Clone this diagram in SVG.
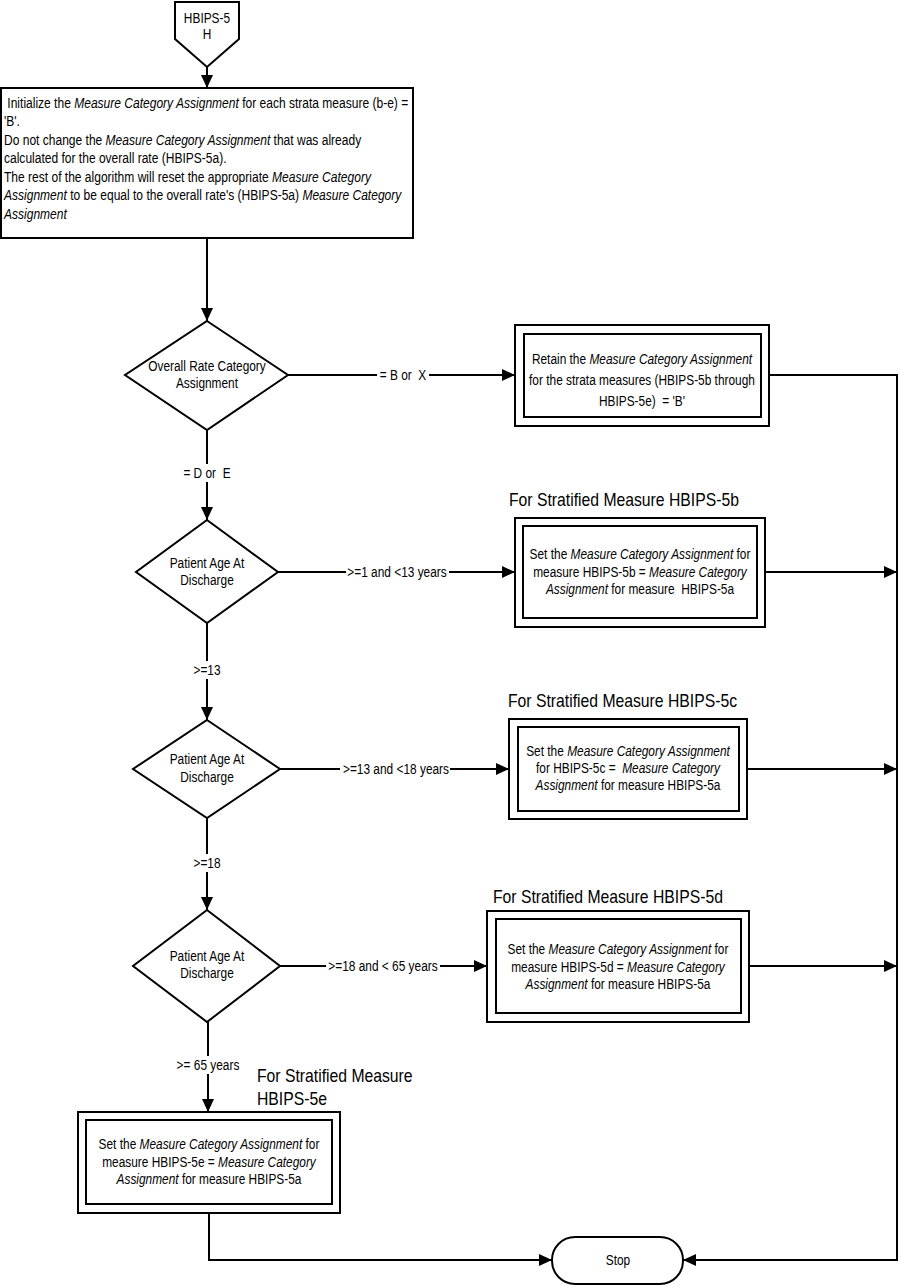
<svg xmlns="http://www.w3.org/2000/svg" width="901" height="1287" viewBox="0 0 901 1287">
<style>
text{font-family:"Liberation Sans",Arial,sans-serif;font-size:14.5px;fill:#000}
.c{text-anchor:middle}
.i{font-style:italic}
.hdr{font-size:17.5px}
.shape{fill:#fff;stroke:#000;stroke-width:2}
.arr{fill:none;stroke:#000;stroke-width:2;marker-end:url(#ah)}
.bg{fill:#fff;stroke:none}
</style>
<defs>
<marker id="ah" markerUnits="userSpaceOnUse" markerWidth="13" markerHeight="12" refX="13" refY="6" orient="auto">
<path d="M0,0 L13,6 L0,12 z" fill="#000"/>
</marker>
</defs>
<rect width="901" height="1287" fill="#fff"/>

<g id="connectors">
<path class="arr" d="M207,67 V88"/>
<path class="arr" d="M207,238 V321"/>
<path class="arr" d="M288,375 H515"/>
<path class="arr" d="M769,375 H897 V1260 H683"/>
<path class="arr" d="M207,430 V520"/>
<path class="arr" d="M278,572 H515"/>
<path class="arr" d="M765,572 H897"/>
<path class="arr" d="M207,623 V720"/>
<path class="arr" d="M280,769 H509"/>
<path class="arr" d="M747,769 H897"/>
<path class="arr" d="M207,818 V910"/>
<path class="arr" d="M280,966 H487"/>
<path class="arr" d="M749,966 H897"/>
<path class="arr" d="M208,1022 V1112"/>
<path class="arr" d="M209,1213 V1260 H552"/>
<g id="connector-labels">
<rect class="bg" x="377" y="366" width="52" height="18"/>
<text class="c" x="403" y="380" transform="matrix(0.82 0 0 1 72.54 0)" xml:space="preserve">= B or  X</text>
<rect class="bg" x="182" y="464" width="50" height="18"/>
<text class="c" x="207" y="478" transform="matrix(0.82 0 0 1 37.26 0)" xml:space="preserve">= D or  E</text>
<rect class="bg" x="346" y="563" width="103" height="18"/>
<text class="c" x="397" y="577" transform="matrix(0.82 0 0 1 71.46 0)">&gt;=1 and &lt;13 years</text>
<rect class="bg" x="190" y="661" width="34" height="18"/>
<text class="c" x="207" y="675" transform="matrix(0.82 0 0 1 37.26 0)">&gt;=13</text>
<rect class="bg" x="340" y="760" width="110" height="18"/>
<text class="c" x="396" y="774" transform="matrix(0.82 0 0 1 71.28 0)">&gt;=13 and &lt;18 years</text>
<rect class="bg" x="190" y="854" width="34" height="18"/>
<text class="c" x="207" y="868" transform="matrix(0.82 0 0 1 37.26 0)">&gt;=18</text>
<rect class="bg" x="326" y="957" width="114" height="18"/>
<text class="c" x="383" y="971" transform="matrix(0.82 0 0 1 68.94 0)">&gt;=18 and &lt; 65 years</text>
<rect class="bg" x="175" y="1056" width="65" height="18"/>
<text class="c" x="208" y="1070" transform="matrix(0.82 0 0 1 37.44 0)">&gt;= 65 years</text>
</g>
</g>

<g id="start">
<path class="shape" d="M175,2 H239 V39 L207,67 L175,39 Z"/>
<g transform="matrix(0.82 0 0 1 37.26 0)">
<text class="c" x="207" y="23">HBIPS-5</text>
<text class="c" x="207" y="39">H</text>
</g>
</g>

<g id="init">
<rect class="shape" x="1" y="88" width="412" height="150"/>
<g transform="matrix(0.83 0 0 1 0.68 0)">
<text x="4" y="108" xml:space="preserve"> Initialize the <tspan class="i">Measure Category Assignment</tspan> for each strata measure (b-e) =</text>
<text x="4" y="126">'B'.</text>
<text x="4" y="145">Do not change the <tspan class="i">Measure Category Assignment</tspan> that was already</text>
<text x="4" y="163">calculated for the overall rate (HBIPS-5a).</text>
<text x="4" y="182">The rest of the algorithm will reset the appropriate <tspan class="i">Measure Category</tspan></text>
<text x="4" y="200"><tspan class="i">Assignment</tspan> to be equal to the overall rate's (HBIPS-5a) <tspan class="i">Measure Category</tspan></text>
<text x="4" y="219"><tspan class="i">Assignment</tspan></text>
</g>
</g>

<g id="d-overall">
<path class="shape" d="M207,321 L288,375 L207,430 L125,375 Z"/>
<g transform="matrix(0.82 0 0 1 37.26 0)">
<text class="c" x="207" y="371">Overall Rate Category</text>
<text class="c" x="207" y="388">Assignment</text>
</g>
</g>

<g id="retain">
<rect class="shape" x="515" y="325" width="254" height="101"/>
<rect class="shape" x="524" y="334" width="237" height="83"/>
<g transform="matrix(0.82 0 0 1 115.56 0)">
<text class="c" x="642" y="364">Retain the <tspan class="i">Measure Category Assignment</tspan></text>
<text class="c" x="642" y="385">for the strata measures (HBIPS-5b through</text>
<text class="c" x="642" y="406" xml:space="preserve">HBIPS-5e)  = 'B'</text>
</g>
</g>

<g id="d-age1">
<path class="shape" d="M207,520 L278,572 L207,623 L136,572 Z"/>
<g transform="matrix(0.82 0 0 1 37.26 0)">
<text class="c" x="207" y="568">Patient Age At</text>
<text class="c" x="207" y="585">Discharge</text>
</g>
</g>

<g id="box-5b">
<text class="hdr" x="509" y="506" transform="matrix(0.9 0 0 1 50.9 0)">For Stratified Measure HBIPS-5b</text>
<rect class="shape" x="515" y="518" width="250" height="109"/>
<rect class="shape" x="523" y="526" width="234" height="92"/>
<g transform="matrix(0.82 0 0 1 115.2 0)">
<text class="c" x="640" y="559">Set the <tspan class="i">Measure Category Assignment</tspan> for</text>
<text class="c" x="640" y="577">measure HBIPS-5b = <tspan class="i">Measure Category</tspan></text>
<text class="c" x="640" y="594" xml:space="preserve"><tspan class="i">Assignment</tspan> for measure  HBIPS-5a</text>
</g>
</g>

<g id="d-age2">
<path class="shape" d="M207,720 L280,769 L207,818 L133,769 Z"/>
<g transform="matrix(0.82 0 0 1 37.26 0)">
<text class="c" x="207" y="764">Patient Age At</text>
<text class="c" x="207" y="782">Discharge</text>
</g>
</g>

<g id="box-5c">
<text class="hdr" x="508" y="707" transform="matrix(0.9 0 0 1 50.8 0)">For Stratified Measure HBIPS-5c</text>
<rect class="shape" x="509" y="719" width="238" height="100"/>
<rect class="shape" x="518" y="727" width="221" height="84"/>
<g transform="matrix(0.82 0 0 1 113.04 0)">
<text class="c" x="628" y="756">Set the <tspan class="i">Measure Category Assignment</tspan></text>
<text class="c" x="628" y="773" xml:space="preserve">for HBIPS-5c =  <tspan class="i">Measure Category</tspan></text>
<text class="c" x="628" y="790"><tspan class="i">Assignment</tspan> for measure HBIPS-5a</text>
</g>
</g>

<g id="d-age3">
<path class="shape" d="M207,910 L280,966 L207,1022 L133,966 Z"/>
<g transform="matrix(0.82 0 0 1 37.26 0)">
<text class="c" x="207" y="961">Patient Age At</text>
<text class="c" x="207" y="978">Discharge</text>
</g>
</g>

<g id="box-5d">
<text class="hdr" x="493" y="903" transform="matrix(0.9 0 0 1 49.3 0)">For Stratified Measure HBIPS-5d</text>
<rect class="shape" x="487" y="911" width="262" height="111"/>
<rect class="shape" x="496" y="919" width="245" height="94"/>
<g transform="matrix(0.82 0 0 1 111.24 0)">
<text class="c" x="618" y="954">Set the <tspan class="i">Measure Category Assignment</tspan> for</text>
<text class="c" x="618" y="972">measure HBIPS-5d = <tspan class="i">Measure Category</tspan></text>
<text class="c" x="618" y="989"><tspan class="i">Assignment</tspan> for measure HBIPS-5a</text>
</g>
</g>

<g id="box-5e">
<g transform="matrix(0.9 0 0 1 25.7 0)">
<text class="hdr" x="257" y="1082">For Stratified Measure</text>
<text class="hdr" x="257" y="1105">HBIPS-5e</text>
</g>
<rect class="shape" x="78" y="1112" width="262" height="101"/>
<rect class="shape" x="86" y="1120" width="246" height="84"/>
<g transform="matrix(0.82 0 0 1 37.62 0)">
<text class="c" x="209" y="1149">Set the <tspan class="i">Measure Category Assignment</tspan> for</text>
<text class="c" x="209" y="1167">measure HBIPS-5e = <tspan class="i">Measure Category</tspan></text>
<text class="c" x="209" y="1184"><tspan class="i">Assignment</tspan> for measure HBIPS-5a</text>
</g>
</g>

<g id="stop">
<rect class="shape" x="552" y="1237" width="131" height="47" rx="23" ry="23"/>
<text class="c" x="618" y="1265" transform="matrix(0.82 0 0 1 111.24 0)">Stop</text>
</g>
</svg>
